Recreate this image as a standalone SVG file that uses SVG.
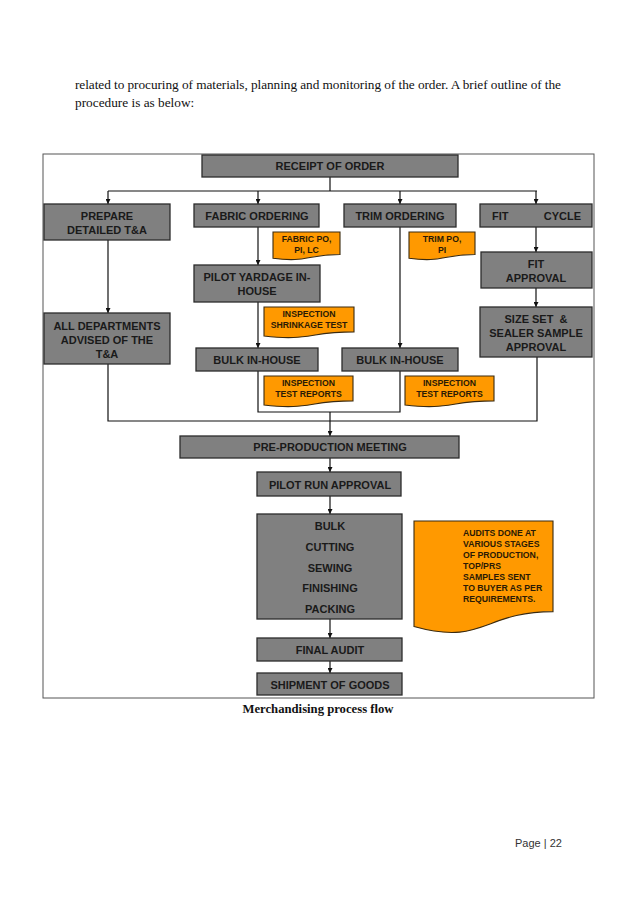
<svg xmlns="http://www.w3.org/2000/svg" width="638" height="902" viewBox="0 0 638 902">
<style>
.box{fill:#808080;stroke:#2b2b2b;stroke-width:1.3}
.doc{fill:#ff9900;stroke:#3a2a10;stroke-width:1.1}
.t{font-family:"Liberation Sans",Arial,sans-serif;font-weight:bold;font-size:11px;fill:#1a1a1a;text-anchor:middle}
.d{font-family:"Liberation Sans",Arial,sans-serif;font-weight:bold;font-size:8.7px;fill:#2a1a05;text-anchor:middle}
.ln{fill:none;stroke:#111;stroke-width:1.2}
.ar{fill:none;stroke:#111;stroke-width:1.2;marker-end:url(#ah)}
.body{font-family:"Liberation Serif","Times New Roman",serif;font-size:13.3px;fill:#111}
</style>
<defs>
<marker id="ah" viewBox="0 0 10 10" refX="10" refY="5" markerWidth="5" markerHeight="5" markerUnits="userSpaceOnUse" orient="auto">
<path d="M0,0 L10,5 L0,10 z" fill="#111"/>
</marker>
</defs>
<rect width="638" height="902" fill="#ffffff"/>
<text class="body" x="75" y="89" textLength="486" lengthAdjust="spacing">related to procuring of materials, planning and monitoring of the order. A brief outline of the</text>
<text class="body" x="75" y="107">procedure is as below:</text>
<rect x="43" y="154" width="551" height="544" fill="none" stroke="#555" stroke-width="1"/>
<g id="connectors">
<path class="ln" d="M330,177 V191 M108,191 H537"/>
<path class="ar" d="M108,191 V204"/>
<path class="ar" d="M258,191 V204"/>
<path class="ar" d="M400,191 V204"/>
<path class="ar" d="M536,191 V204"/>
<path class="ar" d="M108,240 V313"/>
<path class="ar" d="M258,227 V265"/>
<path class="ar" d="M258,302 V348"/>
<path class="ar" d="M400,227 V348"/>
<path class="ar" d="M536,227 V252"/>
<path class="ar" d="M536,288 V307"/>
<path class="ln" d="M258,371 V412 H400 V371"/>
<path class="ln" d="M108,364 V421 H537 V357"/>
<path class="ar" d="M330,412 V436"/>
<path class="ar" d="M330,458 V472"/>
<path class="ar" d="M330,496 V514"/>
<path class="ar" d="M330,619 V638"/>
<path class="ar" d="M330,661 V673"/>
</g>
<g id="receipt"><rect class="box" x="202" y="155" width="256" height="22"/><text class="t" x="330" y="170">RECEIPT OF ORDER</text></g>
<g id="prepare"><rect class="box" x="44" y="204" width="126" height="36"/><text class="t" x="107" y="219.5">PREPARE</text><text class="t" x="107" y="234">DETAILED T&amp;A</text></g>
<g id="fabric"><rect class="box" x="194" y="204" width="125" height="23"/><text class="t" x="257" y="219.5">FABRIC ORDERING</text></g>
<g id="trim"><rect class="box" x="344" y="204" width="112" height="23"/><text class="t" x="400" y="219.5">TRIM ORDERING</text></g>
<g id="fitcycle"><rect class="box" x="480" y="204" width="112" height="23"/><text class="t" x="492" y="219.5" text-anchor="start" style="text-anchor:start">FIT</text><text class="t" x="581" y="219.5" style="text-anchor:end">CYCLE</text></g>
<g id="fabricpo"><path class="doc" d="M273,232 H340 V254.5 C306.5,254.5 306.5,263 273,258.2 Z"/><text class="d" x="306.5" y="242">FABRIC PO,</text><text class="d" x="306.5" y="253">PI, LC</text></g>
<g id="trimpo"><path class="doc" d="M409,232 H475 V254.5 C442,254.5 442,263 409,258.2 Z"/><text class="d" x="442" y="242">TRIM PO,</text><text class="d" x="442" y="253">PI</text></g>
<g id="fitapproval"><rect class="box" x="481" y="252" width="111" height="36"/><text class="t" x="536" y="268">FIT</text><text class="t" x="536" y="281.5">APPROVAL</text></g>
<g id="pilotyardage"><rect class="box" x="194" y="265" width="126" height="37"/><text class="t" x="257" y="281">PILOT YARDAGE IN-</text><text class="t" x="257" y="295">HOUSE</text></g>
<g id="shrinkage"><path class="doc" d="M264,307 H354 V331.9 C309,331.9 309,341.3 264,336 Z"/><text class="d" x="309" y="317">INSPECTION</text><text class="d" x="309" y="328">SHRINKAGE TEST</text></g>
<g id="alldept"><rect class="box" x="44" y="313" width="126" height="51"/><text class="t" x="107" y="330">ALL DEPARTMENTS</text><text class="t" x="107" y="344">ADVISED OF THE</text><text class="t" x="107" y="357.5">T&amp;A</text></g>
<g id="sizeset"><rect class="box" x="480" y="307" width="112" height="50"/><text class="t" x="536" y="323" xml:space="preserve">SIZE SET  &amp;</text><text class="t" x="536" y="337">SEALER SAMPLE</text><text class="t" x="536" y="351">APPROVAL</text></g>
<g id="bulk1"><rect class="box" x="196" y="348" width="122" height="23"/><text class="t" x="257" y="364">BULK IN-HOUSE</text></g>
<g id="bulk2"><rect class="box" x="342" y="348" width="116" height="23"/><text class="t" x="400" y="364">BULK IN-HOUSE</text></g>
<g id="testreports1"><path class="doc" d="M264,376 H353 V400.9 C308.5,400.9 308.5,410.3 264,405 Z"/><text class="d" x="308.5" y="386">INSPECTION</text><text class="d" x="308.5" y="397">TEST REPORTS</text></g>
<g id="testreports2"><path class="doc" d="M405,376 H494 V400.9 C449.5,400.9 449.5,410.3 405,405 Z"/><text class="d" x="449.5" y="386">INSPECTION</text><text class="d" x="449.5" y="397">TEST REPORTS</text></g>
<g id="preproduction"><rect class="box" x="180" y="436" width="279" height="22"/><text class="t" x="330" y="450.5">PRE-PRODUCTION MEETING</text></g>
<g id="pilotrun"><rect class="box" x="257" y="472" width="144" height="24"/><text class="t" x="330" y="489">PILOT RUN APPROVAL</text></g>
<g id="bulk"><rect class="box" x="257" y="514" width="145" height="105"/><text class="t" x="330" y="530">BULK</text><text class="t" x="330" y="551">CUTTING</text><text class="t" x="330" y="572">SEWING</text><text class="t" x="330" y="592">FINISHING</text><text class="t" x="330" y="613">PACKING</text></g>
<g id="audits"><path class="doc" d="M414,521 H553 V611.6 C483.5,611.6 483.5,646 414,626.5 Z"/>
<g class="d" style="text-anchor:start">
<text class="d" x="463" y="536" style="text-anchor:start">AUDITS DONE AT</text>
<text class="d" x="463" y="547" style="text-anchor:start">VARIOUS STAGES</text>
<text class="d" x="463" y="558" style="text-anchor:start">OF PRODUCTION,</text>
<text class="d" x="463" y="569" style="text-anchor:start">TOP/PRS</text>
<text class="d" x="463" y="580" style="text-anchor:start">SAMPLES SENT</text>
<text class="d" x="463" y="591" style="text-anchor:start">TO BUYER AS PER</text>
<text class="d" x="463" y="602" style="text-anchor:start">REQUIREMENTS.</text>
</g></g>
<g id="finalaudit"><rect class="box" x="257" y="638" width="145" height="23"/><text class="t" x="330" y="654">FINAL AUDIT</text></g>
<g id="shipment"><rect class="box" x="257" y="673" width="145" height="22"/><text class="t" x="330" y="688.5">SHIPMENT OF GOODS</text></g>
<text x="318" y="713" font-family="'Liberation Serif','Times New Roman',serif" font-weight="bold" font-size="12.7" fill="#111" text-anchor="middle">Merchandising process flow</text>
<text x="515" y="847" font-family="'Liberation Sans',Arial,sans-serif" font-size="11" fill="#333">Page | 22</text>
</svg>
